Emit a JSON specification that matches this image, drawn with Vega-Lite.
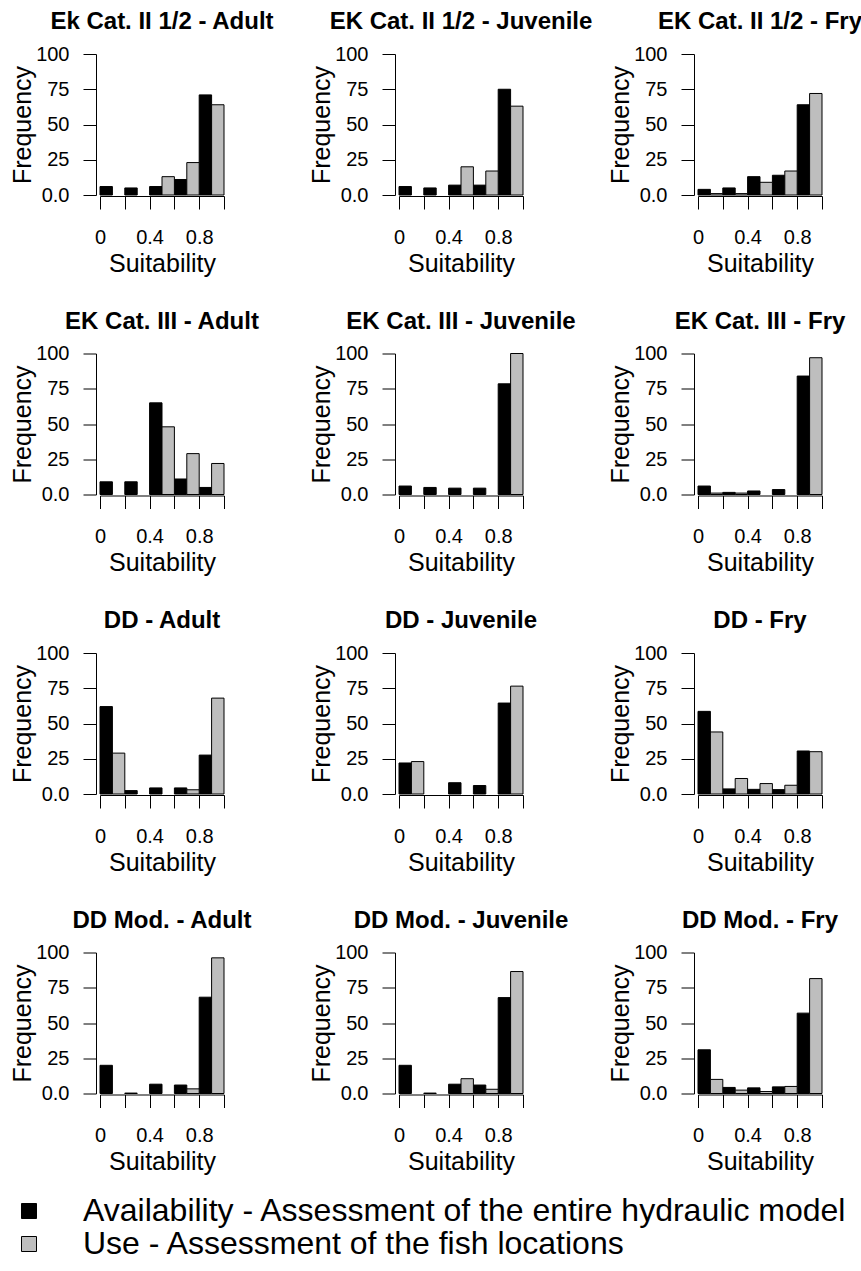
{
"$schema": "https://vega.github.io/schema/vega-lite/v6.json",
"background": "white",
"padding": {"left": 10, "top": 10, "right": 0, "bottom": 0},
"data": {"values": [
{"p":"Ek Cat. II 1/2 - Adult","s":"Availability - Assessment of the entire hydraulic model","lo":0,"hi":0.1,"f":6},
{"p":"Ek Cat. II 1/2 - Adult","s":"Availability - Assessment of the entire hydraulic model","lo":0.2,"hi":0.3,"f":5},
{"p":"Ek Cat. II 1/2 - Adult","s":"Availability - Assessment of the entire hydraulic model","lo":0.4,"hi":0.5,"f":6},
{"p":"Ek Cat. II 1/2 - Adult","s":"Availability - Assessment of the entire hydraulic model","lo":0.6,"hi":0.7,"f":11},
{"p":"Ek Cat. II 1/2 - Adult","s":"Availability - Assessment of the entire hydraulic model","lo":0.8,"hi":0.9,"f":71},
{"p":"Ek Cat. II 1/2 - Adult","s":"Use - Assessment of the fish locations","lo":0.5,"hi":0.6,"f":13},
{"p":"Ek Cat. II 1/2 - Adult","s":"Use - Assessment of the fish locations","lo":0.7,"hi":0.8,"f":23},
{"p":"Ek Cat. II 1/2 - Adult","s":"Use - Assessment of the fish locations","lo":0.9,"hi":1,"f":64},
{"p":"EK Cat. II 1/2 - Juvenile","s":"Availability - Assessment of the entire hydraulic model","lo":0,"hi":0.1,"f":6},
{"p":"EK Cat. II 1/2 - Juvenile","s":"Availability - Assessment of the entire hydraulic model","lo":0.2,"hi":0.3,"f":5},
{"p":"EK Cat. II 1/2 - Juvenile","s":"Availability - Assessment of the entire hydraulic model","lo":0.4,"hi":0.5,"f":7},
{"p":"EK Cat. II 1/2 - Juvenile","s":"Availability - Assessment of the entire hydraulic model","lo":0.6,"hi":0.7,"f":7},
{"p":"EK Cat. II 1/2 - Juvenile","s":"Availability - Assessment of the entire hydraulic model","lo":0.8,"hi":0.9,"f":75},
{"p":"EK Cat. II 1/2 - Juvenile","s":"Use - Assessment of the fish locations","lo":0.5,"hi":0.6,"f":20},
{"p":"EK Cat. II 1/2 - Juvenile","s":"Use - Assessment of the fish locations","lo":0.7,"hi":0.8,"f":17},
{"p":"EK Cat. II 1/2 - Juvenile","s":"Use - Assessment of the fish locations","lo":0.9,"hi":1,"f":63},
{"p":"EK Cat. II 1/2 - Fry","s":"Availability - Assessment of the entire hydraulic model","lo":0,"hi":0.1,"f":4},
{"p":"EK Cat. II 1/2 - Fry","s":"Availability - Assessment of the entire hydraulic model","lo":0.2,"hi":0.3,"f":5},
{"p":"EK Cat. II 1/2 - Fry","s":"Availability - Assessment of the entire hydraulic model","lo":0.4,"hi":0.5,"f":13},
{"p":"EK Cat. II 1/2 - Fry","s":"Availability - Assessment of the entire hydraulic model","lo":0.6,"hi":0.7,"f":14},
{"p":"EK Cat. II 1/2 - Fry","s":"Availability - Assessment of the entire hydraulic model","lo":0.8,"hi":0.9,"f":64},
{"p":"EK Cat. II 1/2 - Fry","s":"Use - Assessment of the fish locations","lo":0.1,"hi":0.2,"f":1},
{"p":"EK Cat. II 1/2 - Fry","s":"Use - Assessment of the fish locations","lo":0.3,"hi":0.4,"f":1},
{"p":"EK Cat. II 1/2 - Fry","s":"Use - Assessment of the fish locations","lo":0.5,"hi":0.6,"f":9},
{"p":"EK Cat. II 1/2 - Fry","s":"Use - Assessment of the fish locations","lo":0.7,"hi":0.8,"f":17},
{"p":"EK Cat. II 1/2 - Fry","s":"Use - Assessment of the fish locations","lo":0.9,"hi":1,"f":72},
{"p":"EK Cat. III - Adult","s":"Availability - Assessment of the entire hydraulic model","lo":0,"hi":0.1,"f":9},
{"p":"EK Cat. III - Adult","s":"Availability - Assessment of the entire hydraulic model","lo":0.2,"hi":0.3,"f":9},
{"p":"EK Cat. III - Adult","s":"Availability - Assessment of the entire hydraulic model","lo":0.4,"hi":0.5,"f":65},
{"p":"EK Cat. III - Adult","s":"Availability - Assessment of the entire hydraulic model","lo":0.6,"hi":0.7,"f":11},
{"p":"EK Cat. III - Adult","s":"Availability - Assessment of the entire hydraulic model","lo":0.8,"hi":0.9,"f":5},
{"p":"EK Cat. III - Adult","s":"Use - Assessment of the fish locations","lo":0.5,"hi":0.6,"f":48},
{"p":"EK Cat. III - Adult","s":"Use - Assessment of the fish locations","lo":0.7,"hi":0.8,"f":29},
{"p":"EK Cat. III - Adult","s":"Use - Assessment of the fish locations","lo":0.9,"hi":1,"f":22},
{"p":"EK Cat. III - Juvenile","s":"Availability - Assessment of the entire hydraulic model","lo":0,"hi":0.1,"f":6},
{"p":"EK Cat. III - Juvenile","s":"Availability - Assessment of the entire hydraulic model","lo":0.2,"hi":0.3,"f":5},
{"p":"EK Cat. III - Juvenile","s":"Availability - Assessment of the entire hydraulic model","lo":0.4,"hi":0.5,"f":4.5},
{"p":"EK Cat. III - Juvenile","s":"Availability - Assessment of the entire hydraulic model","lo":0.6,"hi":0.7,"f":4.5},
{"p":"EK Cat. III - Juvenile","s":"Availability - Assessment of the entire hydraulic model","lo":0.8,"hi":0.9,"f":78.5},
{"p":"EK Cat. III - Juvenile","s":"Use - Assessment of the fish locations","lo":0.9,"hi":1,"f":100},
{"p":"EK Cat. III - Fry","s":"Availability - Assessment of the entire hydraulic model","lo":0,"hi":0.1,"f":6},
{"p":"EK Cat. III - Fry","s":"Availability - Assessment of the entire hydraulic model","lo":0.2,"hi":0.3,"f":1.5},
{"p":"EK Cat. III - Fry","s":"Availability - Assessment of the entire hydraulic model","lo":0.4,"hi":0.5,"f":2.5},
{"p":"EK Cat. III - Fry","s":"Availability - Assessment of the entire hydraulic model","lo":0.6,"hi":0.7,"f":3.5},
{"p":"EK Cat. III - Fry","s":"Availability - Assessment of the entire hydraulic model","lo":0.8,"hi":0.9,"f":84},
{"p":"EK Cat. III - Fry","s":"Use - Assessment of the fish locations","lo":0.1,"hi":0.2,"f":1},
{"p":"EK Cat. III - Fry","s":"Use - Assessment of the fish locations","lo":0.3,"hi":0.4,"f":1},
{"p":"EK Cat. III - Fry","s":"Use - Assessment of the fish locations","lo":0.9,"hi":1,"f":97},
{"p":"DD - Adult","s":"Availability - Assessment of the entire hydraulic model","lo":0,"hi":0.1,"f":62},
{"p":"DD - Adult","s":"Availability - Assessment of the entire hydraulic model","lo":0.2,"hi":0.3,"f":2.4},
{"p":"DD - Adult","s":"Availability - Assessment of the entire hydraulic model","lo":0.4,"hi":0.5,"f":4.3},
{"p":"DD - Adult","s":"Availability - Assessment of the entire hydraulic model","lo":0.6,"hi":0.7,"f":4.3},
{"p":"DD - Adult","s":"Availability - Assessment of the entire hydraulic model","lo":0.8,"hi":0.9,"f":27.6},
{"p":"DD - Adult","s":"Use - Assessment of the fish locations","lo":0.1,"hi":0.2,"f":29},
{"p":"DD - Adult","s":"Use - Assessment of the fish locations","lo":0.7,"hi":0.8,"f":3},
{"p":"DD - Adult","s":"Use - Assessment of the fish locations","lo":0.9,"hi":1,"f":68},
{"p":"DD - Juvenile","s":"Availability - Assessment of the entire hydraulic model","lo":0,"hi":0.1,"f":22},
{"p":"DD - Juvenile","s":"Availability - Assessment of the entire hydraulic model","lo":0.4,"hi":0.5,"f":8},
{"p":"DD - Juvenile","s":"Availability - Assessment of the entire hydraulic model","lo":0.6,"hi":0.7,"f":6},
{"p":"DD - Juvenile","s":"Availability - Assessment of the entire hydraulic model","lo":0.8,"hi":0.9,"f":64.5},
{"p":"DD - Juvenile","s":"Use - Assessment of the fish locations","lo":0.1,"hi":0.2,"f":23},
{"p":"DD - Juvenile","s":"Use - Assessment of the fish locations","lo":0.9,"hi":1,"f":76.5},
{"p":"DD - Fry","s":"Availability - Assessment of the entire hydraulic model","lo":0,"hi":0.1,"f":58.6},
{"p":"DD - Fry","s":"Availability - Assessment of the entire hydraulic model","lo":0.2,"hi":0.3,"f":3.6},
{"p":"DD - Fry","s":"Availability - Assessment of the entire hydraulic model","lo":0.4,"hi":0.5,"f":3.3},
{"p":"DD - Fry","s":"Availability - Assessment of the entire hydraulic model","lo":0.6,"hi":0.7,"f":3.1},
{"p":"DD - Fry","s":"Availability - Assessment of the entire hydraulic model","lo":0.8,"hi":0.9,"f":30.5},
{"p":"DD - Fry","s":"Use - Assessment of the fish locations","lo":0.1,"hi":0.2,"f":44},
{"p":"DD - Fry","s":"Use - Assessment of the fish locations","lo":0.3,"hi":0.4,"f":11},
{"p":"DD - Fry","s":"Use - Assessment of the fish locations","lo":0.5,"hi":0.6,"f":7.4},
{"p":"DD - Fry","s":"Use - Assessment of the fish locations","lo":0.7,"hi":0.8,"f":6.2},
{"p":"DD - Fry","s":"Use - Assessment of the fish locations","lo":0.9,"hi":1,"f":30},
{"p":"DD Mod. - Adult","s":"Availability - Assessment of the entire hydraulic model","lo":0,"hi":0.1,"f":20},
{"p":"DD Mod. - Adult","s":"Availability - Assessment of the entire hydraulic model","lo":0.2,"hi":0.3,"f":0.3},
{"p":"DD Mod. - Adult","s":"Availability - Assessment of the entire hydraulic model","lo":0.4,"hi":0.5,"f":6.6},
{"p":"DD Mod. - Adult","s":"Availability - Assessment of the entire hydraulic model","lo":0.6,"hi":0.7,"f":6},
{"p":"DD Mod. - Adult","s":"Availability - Assessment of the entire hydraulic model","lo":0.8,"hi":0.9,"f":68.3},
{"p":"DD Mod. - Adult","s":"Use - Assessment of the fish locations","lo":0.7,"hi":0.8,"f":3.3},
{"p":"DD Mod. - Adult","s":"Use - Assessment of the fish locations","lo":0.9,"hi":1,"f":96.2},
{"p":"DD Mod. - Juvenile","s":"Availability - Assessment of the entire hydraulic model","lo":0,"hi":0.1,"f":20},
{"p":"DD Mod. - Juvenile","s":"Availability - Assessment of the entire hydraulic model","lo":0.2,"hi":0.3,"f":0.3},
{"p":"DD Mod. - Juvenile","s":"Availability - Assessment of the entire hydraulic model","lo":0.4,"hi":0.5,"f":6.6},
{"p":"DD Mod. - Juvenile","s":"Availability - Assessment of the entire hydraulic model","lo":0.6,"hi":0.7,"f":6},
{"p":"DD Mod. - Juvenile","s":"Availability - Assessment of the entire hydraulic model","lo":0.8,"hi":0.9,"f":68},
{"p":"DD Mod. - Juvenile","s":"Use - Assessment of the fish locations","lo":0.5,"hi":0.6,"f":10.5},
{"p":"DD Mod. - Juvenile","s":"Use - Assessment of the fish locations","lo":0.7,"hi":0.8,"f":3},
{"p":"DD Mod. - Juvenile","s":"Use - Assessment of the fish locations","lo":0.9,"hi":1,"f":86.5},
{"p":"DD Mod. - Fry","s":"Availability - Assessment of the entire hydraulic model","lo":0,"hi":0.1,"f":31},
{"p":"DD Mod. - Fry","s":"Availability - Assessment of the entire hydraulic model","lo":0.2,"hi":0.3,"f":4.3},
{"p":"DD Mod. - Fry","s":"Availability - Assessment of the entire hydraulic model","lo":0.4,"hi":0.5,"f":4},
{"p":"DD Mod. - Fry","s":"Availability - Assessment of the entire hydraulic model","lo":0.6,"hi":0.7,"f":4.7},
{"p":"DD Mod. - Fry","s":"Availability - Assessment of the entire hydraulic model","lo":0.8,"hi":0.9,"f":57},
{"p":"DD Mod. - Fry","s":"Use - Assessment of the fish locations","lo":0.1,"hi":0.2,"f":10},
{"p":"DD Mod. - Fry","s":"Use - Assessment of the fish locations","lo":0.3,"hi":0.4,"f":2.4},
{"p":"DD Mod. - Fry","s":"Use - Assessment of the fish locations","lo":0.5,"hi":0.6,"f":1.4},
{"p":"DD Mod. - Fry","s":"Use - Assessment of the fish locations","lo":0.7,"hi":0.8,"f":5},
{"p":"DD Mod. - Fry","s":"Use - Assessment of the fish locations","lo":0.9,"hi":1,"f":81.5}
]},
"columns": 3,
"spacing": {"row": 158.5, "column": 175},
"bounds": "flush",
"resolve": {"scale": {"fill": "shared"}, "legend": {"fill": "shared"}},
"concat": [
{"title":"Ek Cat. II 1/2 - Adult","transform":[{"filter":"datum.p==='Ek Cat. II 1/2 - Adult'"}],"mark":{"type":"bar","stroke":"black","strokeWidth":1},"encoding":{"x":{"field":"lo","type":"quantitative","scale":{"domain":[0,1],"nice":false,"zero":false},"axis":{"values":[0,0.2,0.4,0.6,0.8,1],"labelExpr":"datum.value===0?'0':abs(datum.value-0.4)<0.01?'0.4':abs(datum.value-0.8)<0.01?'0.8':''"},"title":"Suitability"},"x2":{"field":"hi"},"y":{"field":"f","type":"quantitative","scale":{"domain":[0,100]},"axis":{"values":[0,25,50,75,100],"labelExpr":"datum.value===0?'0.0':datum.label"},"title":"Frequency"},"y2":{"datum":0},"fill":{"field":"s","type":"nominal","title":null}}},
{"title":"EK Cat. II 1/2 - Juvenile","transform":[{"filter":"datum.p==='EK Cat. II 1/2 - Juvenile'"}],"mark":{"type":"bar","stroke":"black","strokeWidth":1},"encoding":{"x":{"field":"lo","type":"quantitative","scale":{"domain":[0,1],"nice":false,"zero":false},"axis":{"values":[0,0.2,0.4,0.6,0.8,1],"labelExpr":"datum.value===0?'0':abs(datum.value-0.4)<0.01?'0.4':abs(datum.value-0.8)<0.01?'0.8':''"},"title":"Suitability"},"x2":{"field":"hi"},"y":{"field":"f","type":"quantitative","scale":{"domain":[0,100]},"axis":{"values":[0,25,50,75,100],"labelExpr":"datum.value===0?'0.0':datum.label"},"title":"Frequency"},"y2":{"datum":0},"fill":{"field":"s","type":"nominal","title":null}}},
{"title":"EK Cat. II 1/2 - Fry","transform":[{"filter":"datum.p==='EK Cat. II 1/2 - Fry'"}],"mark":{"type":"bar","stroke":"black","strokeWidth":1},"encoding":{"x":{"field":"lo","type":"quantitative","scale":{"domain":[0,1],"nice":false,"zero":false},"axis":{"values":[0,0.2,0.4,0.6,0.8,1],"labelExpr":"datum.value===0?'0':abs(datum.value-0.4)<0.01?'0.4':abs(datum.value-0.8)<0.01?'0.8':''"},"title":"Suitability"},"x2":{"field":"hi"},"y":{"field":"f","type":"quantitative","scale":{"domain":[0,100]},"axis":{"values":[0,25,50,75,100],"labelExpr":"datum.value===0?'0.0':datum.label"},"title":"Frequency"},"y2":{"datum":0},"fill":{"field":"s","type":"nominal","title":null}}},
{"title":"EK Cat. III - Adult","transform":[{"filter":"datum.p==='EK Cat. III - Adult'"}],"mark":{"type":"bar","stroke":"black","strokeWidth":1},"encoding":{"x":{"field":"lo","type":"quantitative","scale":{"domain":[0,1],"nice":false,"zero":false},"axis":{"values":[0,0.2,0.4,0.6,0.8,1],"labelExpr":"datum.value===0?'0':abs(datum.value-0.4)<0.01?'0.4':abs(datum.value-0.8)<0.01?'0.8':''"},"title":"Suitability"},"x2":{"field":"hi"},"y":{"field":"f","type":"quantitative","scale":{"domain":[0,100]},"axis":{"values":[0,25,50,75,100],"labelExpr":"datum.value===0?'0.0':datum.label"},"title":"Frequency"},"y2":{"datum":0},"fill":{"field":"s","type":"nominal","title":null}}},
{"title":"EK Cat. III - Juvenile","transform":[{"filter":"datum.p==='EK Cat. III - Juvenile'"}],"mark":{"type":"bar","stroke":"black","strokeWidth":1},"encoding":{"x":{"field":"lo","type":"quantitative","scale":{"domain":[0,1],"nice":false,"zero":false},"axis":{"values":[0,0.2,0.4,0.6,0.8,1],"labelExpr":"datum.value===0?'0':abs(datum.value-0.4)<0.01?'0.4':abs(datum.value-0.8)<0.01?'0.8':''"},"title":"Suitability"},"x2":{"field":"hi"},"y":{"field":"f","type":"quantitative","scale":{"domain":[0,100]},"axis":{"values":[0,25,50,75,100],"labelExpr":"datum.value===0?'0.0':datum.label"},"title":"Frequency"},"y2":{"datum":0},"fill":{"field":"s","type":"nominal","title":null}}},
{"title":"EK Cat. III - Fry","transform":[{"filter":"datum.p==='EK Cat. III - Fry'"}],"mark":{"type":"bar","stroke":"black","strokeWidth":1},"encoding":{"x":{"field":"lo","type":"quantitative","scale":{"domain":[0,1],"nice":false,"zero":false},"axis":{"values":[0,0.2,0.4,0.6,0.8,1],"labelExpr":"datum.value===0?'0':abs(datum.value-0.4)<0.01?'0.4':abs(datum.value-0.8)<0.01?'0.8':''"},"title":"Suitability"},"x2":{"field":"hi"},"y":{"field":"f","type":"quantitative","scale":{"domain":[0,100]},"axis":{"values":[0,25,50,75,100],"labelExpr":"datum.value===0?'0.0':datum.label"},"title":"Frequency"},"y2":{"datum":0},"fill":{"field":"s","type":"nominal","title":null}}},
{"title":"DD - Adult","transform":[{"filter":"datum.p==='DD - Adult'"}],"mark":{"type":"bar","stroke":"black","strokeWidth":1},"encoding":{"x":{"field":"lo","type":"quantitative","scale":{"domain":[0,1],"nice":false,"zero":false},"axis":{"values":[0,0.2,0.4,0.6,0.8,1],"labelExpr":"datum.value===0?'0':abs(datum.value-0.4)<0.01?'0.4':abs(datum.value-0.8)<0.01?'0.8':''"},"title":"Suitability"},"x2":{"field":"hi"},"y":{"field":"f","type":"quantitative","scale":{"domain":[0,100]},"axis":{"values":[0,25,50,75,100],"labelExpr":"datum.value===0?'0.0':datum.label"},"title":"Frequency"},"y2":{"datum":0},"fill":{"field":"s","type":"nominal","title":null}}},
{"title":"DD - Juvenile","transform":[{"filter":"datum.p==='DD - Juvenile'"}],"mark":{"type":"bar","stroke":"black","strokeWidth":1},"encoding":{"x":{"field":"lo","type":"quantitative","scale":{"domain":[0,1],"nice":false,"zero":false},"axis":{"values":[0,0.2,0.4,0.6,0.8,1],"labelExpr":"datum.value===0?'0':abs(datum.value-0.4)<0.01?'0.4':abs(datum.value-0.8)<0.01?'0.8':''"},"title":"Suitability"},"x2":{"field":"hi"},"y":{"field":"f","type":"quantitative","scale":{"domain":[0,100]},"axis":{"values":[0,25,50,75,100],"labelExpr":"datum.value===0?'0.0':datum.label"},"title":"Frequency"},"y2":{"datum":0},"fill":{"field":"s","type":"nominal","title":null}}},
{"title":"DD - Fry","transform":[{"filter":"datum.p==='DD - Fry'"}],"mark":{"type":"bar","stroke":"black","strokeWidth":1},"encoding":{"x":{"field":"lo","type":"quantitative","scale":{"domain":[0,1],"nice":false,"zero":false},"axis":{"values":[0,0.2,0.4,0.6,0.8,1],"labelExpr":"datum.value===0?'0':abs(datum.value-0.4)<0.01?'0.4':abs(datum.value-0.8)<0.01?'0.8':''"},"title":"Suitability"},"x2":{"field":"hi"},"y":{"field":"f","type":"quantitative","scale":{"domain":[0,100]},"axis":{"values":[0,25,50,75,100],"labelExpr":"datum.value===0?'0.0':datum.label"},"title":"Frequency"},"y2":{"datum":0},"fill":{"field":"s","type":"nominal","title":null}}},
{"title":"DD Mod. - Adult","transform":[{"filter":"datum.p==='DD Mod. - Adult'"}],"mark":{"type":"bar","stroke":"black","strokeWidth":1},"encoding":{"x":{"field":"lo","type":"quantitative","scale":{"domain":[0,1],"nice":false,"zero":false},"axis":{"values":[0,0.2,0.4,0.6,0.8,1],"labelExpr":"datum.value===0?'0':abs(datum.value-0.4)<0.01?'0.4':abs(datum.value-0.8)<0.01?'0.8':''"},"title":"Suitability"},"x2":{"field":"hi"},"y":{"field":"f","type":"quantitative","scale":{"domain":[0,100]},"axis":{"values":[0,25,50,75,100],"labelExpr":"datum.value===0?'0.0':datum.label"},"title":"Frequency"},"y2":{"datum":0},"fill":{"field":"s","type":"nominal","title":null}}},
{"title":"DD Mod. - Juvenile","transform":[{"filter":"datum.p==='DD Mod. - Juvenile'"}],"mark":{"type":"bar","stroke":"black","strokeWidth":1},"encoding":{"x":{"field":"lo","type":"quantitative","scale":{"domain":[0,1],"nice":false,"zero":false},"axis":{"values":[0,0.2,0.4,0.6,0.8,1],"labelExpr":"datum.value===0?'0':abs(datum.value-0.4)<0.01?'0.4':abs(datum.value-0.8)<0.01?'0.8':''"},"title":"Suitability"},"x2":{"field":"hi"},"y":{"field":"f","type":"quantitative","scale":{"domain":[0,100]},"axis":{"values":[0,25,50,75,100],"labelExpr":"datum.value===0?'0.0':datum.label"},"title":"Frequency"},"y2":{"datum":0},"fill":{"field":"s","type":"nominal","title":null}}},
{"title":"DD Mod. - Fry","transform":[{"filter":"datum.p==='DD Mod. - Fry'"}],"mark":{"type":"bar","stroke":"black","strokeWidth":1},"encoding":{"x":{"field":"lo","type":"quantitative","scale":{"domain":[0,1],"nice":false,"zero":false},"axis":{"values":[0,0.2,0.4,0.6,0.8,1],"labelExpr":"datum.value===0?'0':abs(datum.value-0.4)<0.01?'0.4':abs(datum.value-0.8)<0.01?'0.8':''"},"title":"Suitability"},"x2":{"field":"hi"},"y":{"field":"f","type":"quantitative","scale":{"domain":[0,100]},"axis":{"values":[0,25,50,75,100],"labelExpr":"datum.value===0?'0.0':datum.label"},"title":"Frequency"},"y2":{"datum":0},"fill":{"field":"s","type":"nominal","title":null}}}
],
"config": {
"font": "Liberation Sans",
"view": {"stroke": null, "continuousWidth": 124, "continuousHeight": 141},
"range": {"category": ["#000000", "#BEBEBE"]},
"axis": {"grid": false, "domainColor": "black", "tickColor": "black", "labelColor": "black", "titleColor": "black", "domainWidth": 1, "tickWidth": 1, "tickSize": 13, "labelFontSize": 20, "titleFontSize": 25, "titleFontWeight": "normal", "labelFont": "Liberation Sans", "titleFont": "Liberation Sans", "labelOverlap": false, "labelFlush": false},
"axisX": {"labelPadding": 18, "titlePadding": 4, "offset": 1, "labelAngle": 0},
"axisY": {"labelPadding": 14, "titlePadding": 0, "offset": 4},
"title": {"fontSize": 24, "fontWeight": "bold", "font": "Liberation Sans", "color": "black", "anchor": "middle", "frame": "group", "offset": 10, "baseline": "alphabetic"},
"legend": {"orient": "none", "legendX": -87, "legendY": 1141, "direction": "vertical", "symbolType": "square", "symbolSize": 225, "symbolStrokeColor": "black", "symbolStrokeWidth": 1, "labelFontSize": 32, "labelFont": "Liberation Sans", "labelColor": "black", "labelOffset": 38, "rowPadding": 1, "padding": 0, "labelLimit": 1000}
}
}
